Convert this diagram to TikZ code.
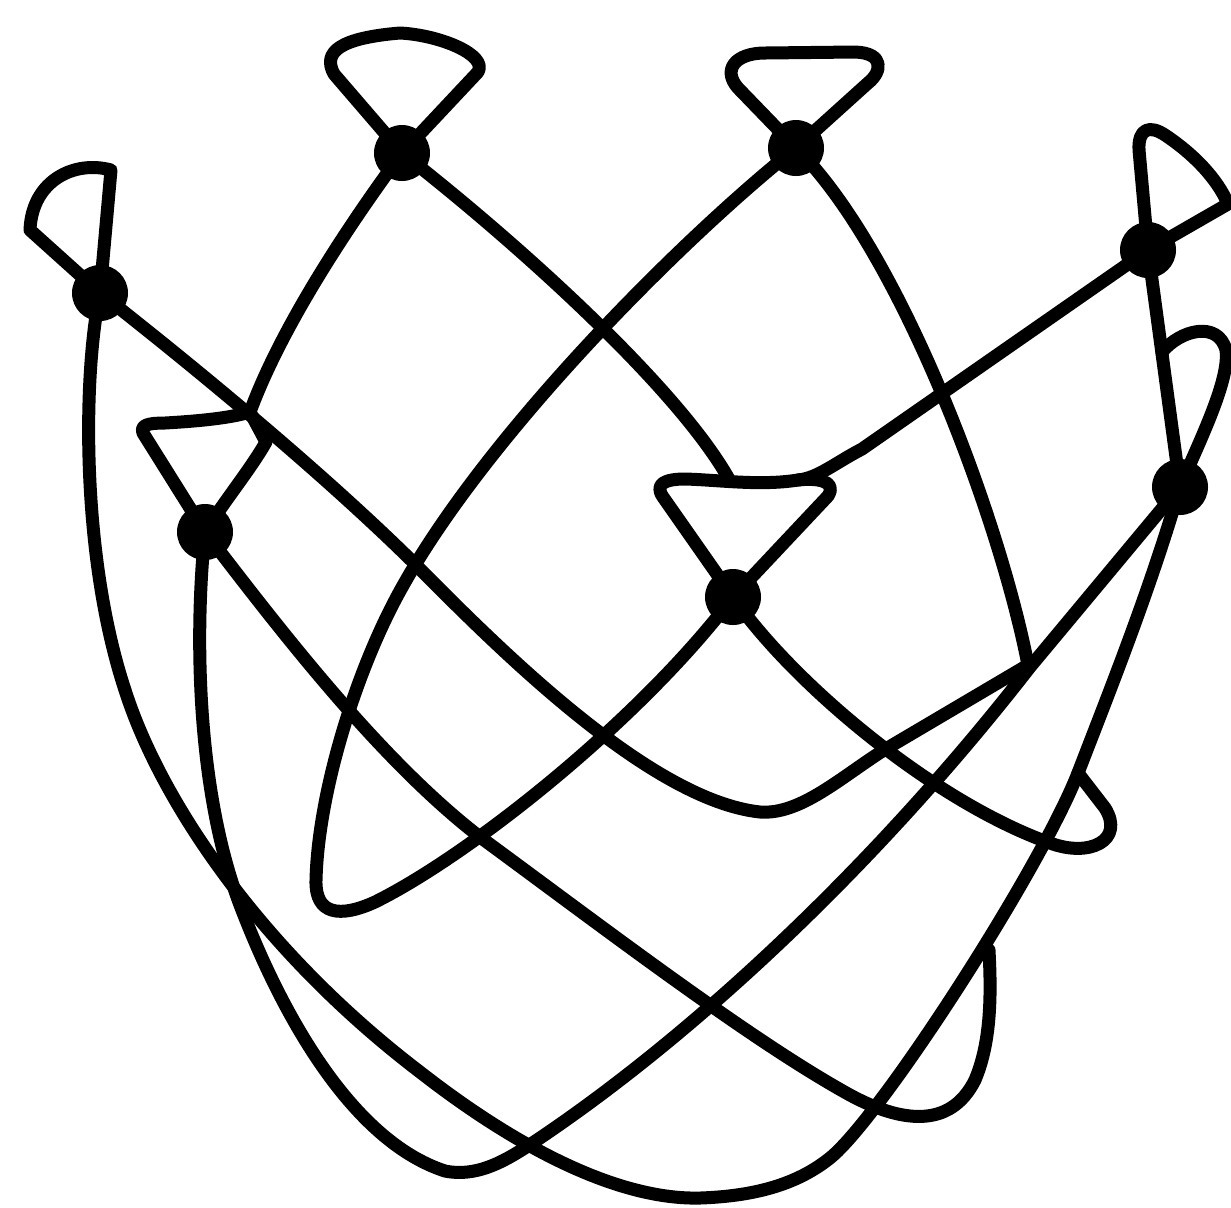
\documentclass[tikz,border=0pt]{standalone}
\begin{document}
\begin{tikzpicture}[x=0.5pt,y=-0.5pt,
  stroke/.style={line width=6.5pt,line cap=round,line join=round},
  vtx/.style={circle,fill=black,inner sep=0pt,minimum size=28pt}]
\useasboundingbox (0,0) rectangle (1231,1207);
% vertices
\coordinate (A) at (100,293);
\coordinate (B) at (402,153);
\coordinate (C) at (796,148);
\coordinate (D) at (1148,250);
\coordinate (E) at (205,532);
\coordinate (F) at (733,597);
\coordinate (G) at (1180,487);
% junction points
\coordinate (jBE) at (250,412);
\coordinate (jBF) at (730,481);
\coordinate (jDF) at (798,480);
\coordinate (jAC) at (1028,665);
\coordinate (jFG) at (1078,773);
\coordinate (jEG) at (989,950);
\coordinate (jDG) at (1162,352);
% loops
\draw[stroke] (A) -- (111,170) .. controls (75,160) and (32,180) .. (30,230) -- (A);
\draw[stroke] (B) -- (334,74) .. controls (322,52) and (340,38) .. (400,33) .. controls (440,35) and (488,55) .. (478,72) -- (B);
\draw[stroke] (C) -- (738,88) .. controls (722,70) and (735,53) .. (765,53) -- (855,52) .. controls (885,53) and (882,72) .. (868,83) -- (C);
\draw[stroke] (D) -- (1139,150) .. controls (1138,128) and (1150,125) .. (1165,135) .. controls (1195,155) and (1218,180) .. (1228,204) -- (D);
\draw[stroke] (jDG) .. controls (1180,330) and (1218,320) .. (1226,350) .. controls (1230,380) and (1200,440) .. (G);
\draw[stroke] (E) -- (143,433) .. controls (140,425) and (148,423) .. (165,423) .. controls (200,421) and (230,418) .. (jBE);
\draw[stroke] (F) -- (663,497) .. controls (654,484) and (665,479) .. (685,479) .. controls (720,480) and (760,486) .. (jDF) .. controls (815,478) and (838,480) .. (828,496) -- (F);
% edges
\draw[stroke] (D) -- (862,449) .. controls (835,463) and (818,478) .. (jDF);
\draw[stroke] (D) -- (G);
\draw[stroke] (B) .. controls (520,245) and (680,390) .. (jBF);
\draw[stroke] (B) .. controls (345,230) and (280,330) .. (jBE) -- (266,442) .. controls (250,470) and (225,500) .. (E);
\draw[stroke] (A) .. controls (230,395) and (340,490) .. (413,562)
  .. controls (500,650) and (650,800) .. (760,812)
  .. controls (800,815) and (840,778) .. (884,750) -- (jAC);
\draw[stroke] (jAC) .. controls (1000,520) and (900,250) .. (C);
\draw[stroke] (C) .. controls (680,240) and (470,450) .. (390,610)
  .. controls (350,690) and (318,800) .. (316,880)
  .. controls (315,915) and (340,918) .. (375,902)
  .. controls (470,855) and (640,720) .. (F);
\draw[stroke] (E) .. controls (193,650) and (200,800) .. (240,905)
  .. controls (280,1010) and (350,1140) .. (445,1171)
  .. controls (480,1178) and (510,1158) .. (540,1138)
  .. controls (700,1030) and (880,860) .. (1030,667) -- (G);
\draw[stroke] (A) .. controls (82,380) and (82,560) .. (125,690)
  .. controls (160,800) and (260,950) .. (420,1072)
  .. controls (520,1150) and (620,1200) .. (700,1198)
  .. controls (760,1196) and (800,1182) .. (830,1158)
  .. controls (880,1118) and (1040,870) .. (jFG)
  .. controls (1110,690) and (1150,590) .. (G);
\draw[stroke] (F) .. controls (790,680) and (930,800) .. (1050,843)
  .. controls (1090,858) and (1125,840) .. (1105,808) -- (jFG);
\draw[stroke] (E) .. controls (280,630) and (380,760) .. (480,837)
  .. controls (600,925) and (750,1040) .. (850,1095)
  .. controls (900,1122) and (950,1130) .. (975,1080)
  .. controls (992,1040) and (991,990) .. (jEG);
% vertex dots
\node[vtx] (nA) at (A) {};
\node[vtx] (nB) at (B) {};
\node[vtx] (nC) at (C) {};
\node[vtx] (nD) at (D) {};
\node[vtx] (nE) at (E) {};
\node[vtx] (nF) at (F) {};
\node[vtx] (nG) at (G) {};
\end{tikzpicture}
\end{document}
